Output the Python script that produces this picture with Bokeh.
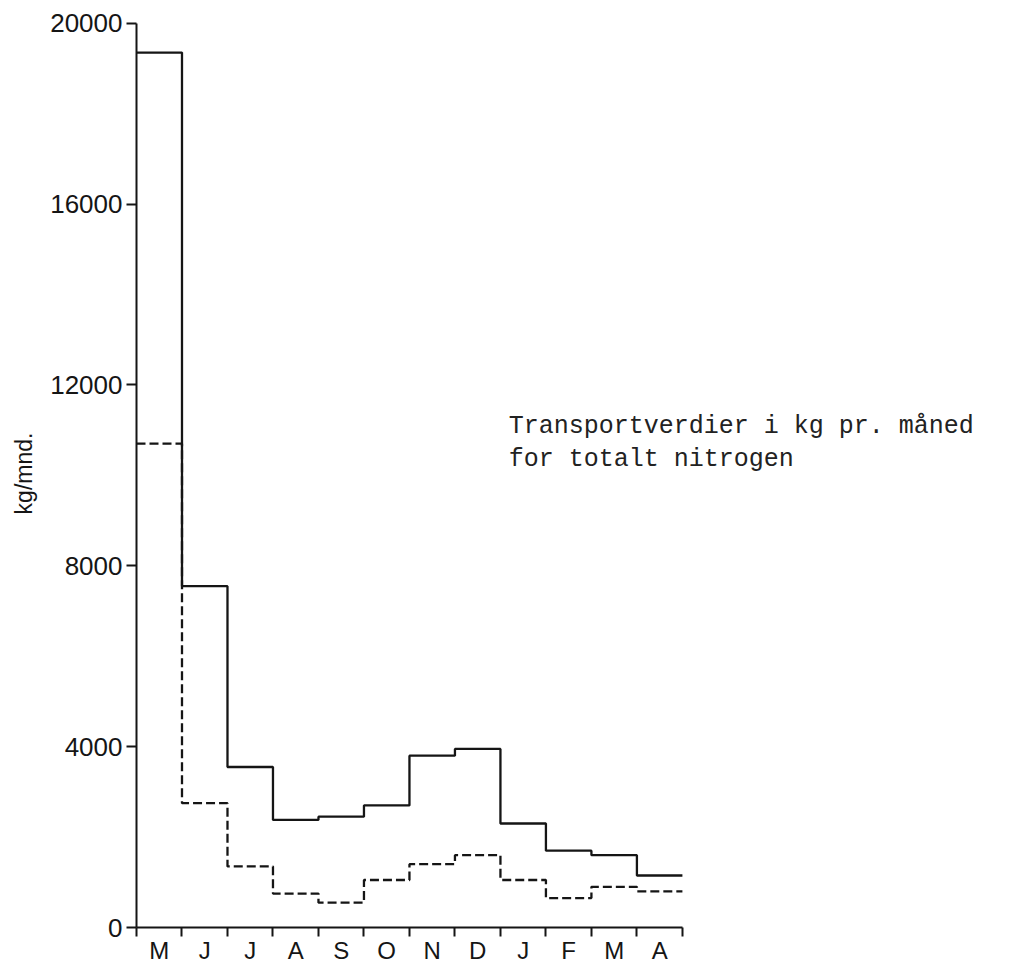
from bokeh.plotting import figure
from bokeh.models import Range1d, FixedTicker, Label
from bokeh.embed import file_html
from bokeh.resources import INLINE

# Monthly transport of total nitrogen (kg per month), May to April
months = ["M", "J", "J", "A", "S", "O", "N", "D", "J", "F", "M", "A"]
total_kg = [19350, 7550, 3550, 2380, 2450, 2700, 3800, 3950, 2300, 1700, 1600, 1150]
second_kg = [10700, 2750, 1350, 750, 550, 1050, 1400, 1600, 1050, 650, 900, 800]
y_ticks = [0, 4000, 8000, 12000, 16000, 20000]

n = len(months)
edges = list(range(n + 1))

p = figure(width=1024, height=966, output_backend="svg", toolbar_location=None,
           x_range=Range1d(0, 19.3), y_range=Range1d(0, 20082),
           min_border_left=136, min_border_right=10,
           min_border_top=19, min_border_bottom=38)
p.outline_line_color = None
p.grid.visible = False
p.background_fill_color = "white"
p.border_fill_color = "white"

ink = "#151515"

# step lines: value holds across each month
p.step(edges, total_kg + [total_kg[-1]], mode="after",
       line_color=ink, line_width=2.3)
p.step(edges, second_kg + [second_kg[-1]], mode="after",
       line_color=ink, line_width=2.3, line_dash="9 4")

# x axis: month names centred between boundary ticks
xa = p.xaxis[0]
xa.ticker = FixedTicker(ticks=[i + 0.5 for i in range(n)], minor_ticks=edges)
xa.major_label_overrides = {i + 0.5: m for i, m in enumerate(months)}
xa.bounds = (0, n)
xa.major_tick_line_color = None
xa.major_tick_out = 0
xa.major_tick_in = 0
xa.minor_tick_line_color = ink
xa.minor_tick_line_width = 2
xa.minor_tick_out = 9
xa.minor_tick_in = 0
xa.axis_line_color = ink
xa.axis_line_width = 2
xa.major_label_standoff = 0
xa.major_label_text_font = "Liberation Sans"
xa.major_label_text_font_size = "24px"
xa.major_label_text_color = ink

# y axis
ya = p.yaxis[0]
ya.ticker = FixedTicker(ticks=y_ticks)
ya.bounds = (0, 20000)
ya.minor_tick_line_color = None
ya.major_tick_line_color = ink
ya.major_tick_line_width = 2
ya.major_tick_out = 10
ya.major_tick_in = 0
ya.axis_line_color = ink
ya.axis_line_width = 2
ya.major_label_standoff = 4
ya.major_label_text_font = "Liberation Sans"
ya.major_label_text_font_size = "26px"
ya.major_label_text_color = ink
ya.axis_label = "kg/mnd."
ya.axis_label_text_font = "Liberation Sans"
ya.axis_label_text_font_size = "23px"
ya.axis_label_text_font_style = "normal"
ya.axis_label_text_color = ink
ya.axis_label_standoff = 10

# caption in typewriter type
for txt, yv in [("Transportverdier i kg pr. måned", 11090),
                ("for totalt nitrogen", 10340)]:
    p.add_layout(Label(x=8.18, y=yv, text=txt, text_font="Liberation Mono",
                       text_font_size="25px", text_color="#222222",
                       text_baseline="alphabetic", text_align="left"))

open("out.html", "w").write(file_html(p, INLINE))
